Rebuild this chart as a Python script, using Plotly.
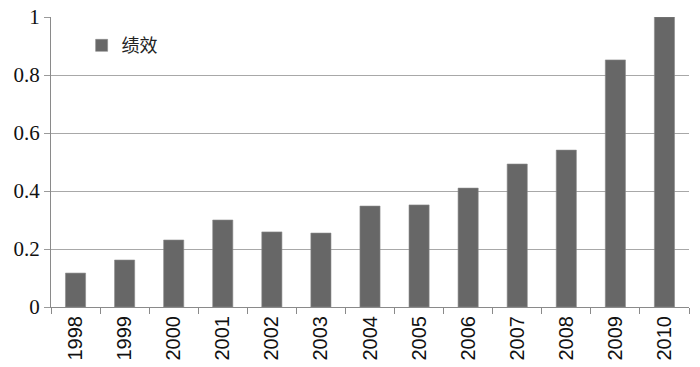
import plotly.graph_objects as go

years = ["1998", "1999", "2000", "2001", "2002", "2003", "2004",
         "2005", "2006", "2007", "2008", "2009", "2010"]
performance = [0.117, 0.162, 0.231, 0.300, 0.259, 0.255, 0.348,
               0.352, 0.410, 0.493, 0.541, 0.852, 1.0]
series_name = "绩效"
y_ticks = [0, 0.2, 0.4, 0.6, 0.8, 1]
y_labels = ["0", "0.2", "0.4", "0.6", "0.8", "1"]

fig = go.Figure()
fig.add_trace(go.Bar(
    x=years, y=performance, name=series_name,
    marker=dict(color="#676767", line=dict(color="#8a8a8a", width=0.6)),
    showlegend=True,
))

fig.update_layout(
    width=700, height=367,
    margin=dict(l=51, r=11, t=17, b=60, autoexpand=False),
    plot_bgcolor="white", paper_bgcolor="white",
    bargap=0.59,
    legend=dict(x=0.048, y=0.965, xanchor="left", yanchor="top",
                font=dict(family="Noto Sans CJK SC", size=18, color="#222"),
                bgcolor="rgba(0,0,0,0)", itemwidth=30),
    xaxis=dict(
        type="category", tickangle=-90, tickson="boundaries",
        ticks="outside", ticklen=6, tickcolor="#8a8a8a",
        showline=True, linecolor="#8a8a8a", linewidth=1,
        showgrid=False, automargin=False,
        tickfont=dict(family="Liberation Sans", size=20, color="#111"),
    ),
    yaxis=dict(
        range=[0, 1], tickvals=y_ticks, ticktext=y_labels,
        ticks="outside", ticklen=6, tickcolor="#9a9a9a",
        showline=True, linecolor="#8a8a8a", linewidth=1,
        showgrid=True, gridcolor="#a8a8a8", gridwidth=1,
        zeroline=False, automargin=False,
        tickfont=dict(family="Liberation Serif", size=21, color="#111"),
    ),
)

fig.write_html("out.html", config={"displayModeBar": False},
               post_script="document.body.style.margin='0';")
